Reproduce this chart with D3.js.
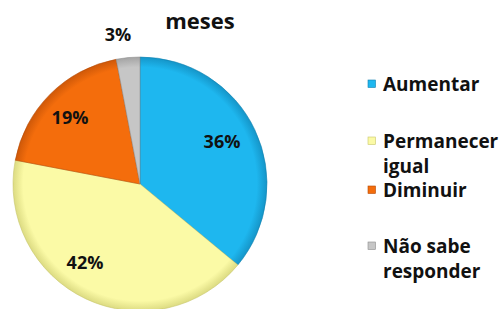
<!DOCTYPE html>
<html><head><meta charset="utf-8">
<script src="https://cdn.jsdelivr.net/npm/d3@7"></script>
<style>body{margin:0;background:#fff}svg{display:block}text{font-family:"Open Sans",Lato,sans-serif;font-weight:bold;fill:#111}</style>
</head><body>
<script>
const categories = ["Aumentar","Permanecer igual","Diminuir","Não sabe responder"];
const values = [36, 42, 19, 3];
const labels = ["36%","42%","19%","3%"];
const legendLines = [["Aumentar"],["Permanecer","igual"],["Diminuir"],["Não sabe","responder"]];
const colors = ["#1eb7ef","#fbfaa6","#f46d0c","#c6c6c6"];
const edgeColors = ["#0f7fae","#c8c66a","#b44a05","#8d8d8d"];

const W=501,H=309, cx=140, cy=184, R=127;
const svg=d3.select("body").append("svg").attr("width",W).attr("height",H);

svg.append("text").attr("x",200).attr("y",29).attr("text-anchor","middle").style("font-size","22px").text("meses");

const pie=d3.pie().sort(null).value(d=>d)(values);
const arc=d3.arc().innerRadius(0).outerRadius(R);
const defs=svg.append("defs");
colors.forEach((c,i)=>{
  const g=defs.append("radialGradient").attr("id","g"+i).attr("gradientUnits","userSpaceOnUse")
    .attr("cx",0).attr("cy",0).attr("r",R);
  g.append("stop").attr("offset","0.92").attr("stop-color",c);
  g.append("stop").attr("offset","1").attr("stop-color",d3.interpolateRgb(c,edgeColors[i])(0.6));
});
const gp=svg.append("g").attr("transform",`translate(${cx},${cy})`);
gp.selectAll("path").data(pie).join("path").attr("d",arc)
  .attr("fill",(d,i)=>`url(#g${i})`).attr("stroke",(d,i)=>edgeColors[i]).attr("stroke-width",0.8).attr("stroke-opacity",0.7);

const labelPos=[[82,-42],[-55,79],[-70,-66],[-22,-149]];
gp.selectAll("text.l").data(pie).join("text").attr("class","l")
  .attr("x",(d,i)=>labelPos[i][0]).attr("y",(d,i)=>labelPos[i][1]).attr("dy","0.35em")
  .attr("text-anchor","middle").style("font-size","18px").text((d,i)=>labels[i]);

const legY=[84,141,190,246];
const lg=svg.append("g");
categories.forEach((c,i)=>{
  lg.append("rect").attr("x",368).attr("y",legY[i]-4).attr("width",7.5).attr("height",7.5).attr("fill",colors[i]).attr("stroke",edgeColors[i]).attr("stroke-width",0.6);
  legendLines[i].forEach((t,j)=>{
    lg.append("text").attr("x",383).attr("y",legY[i]+j*25).attr("dy","0.35em").style("font-size","19px").text(t);
  });
});
</script>
</body></html>
